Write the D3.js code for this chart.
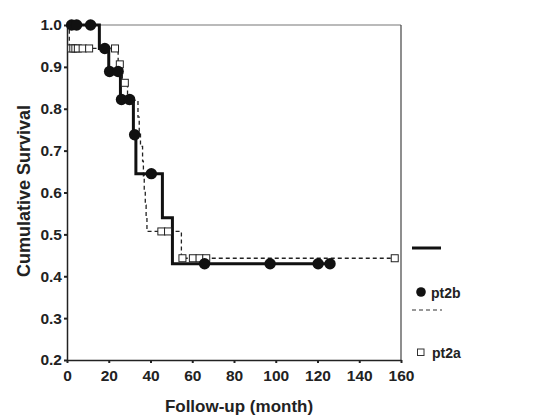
<!DOCTYPE html>
<html lang="en">
    <head>
        <meta charset="utf-8">
        <title>Cumulative Survival</title>
        <script src="https://d3js.org/d3.v7.min.js"></script>
        <style type="text/css">
            body { margin: 0; background: #fff; }
            text { font-family: "Liberation Sans", Arial, sans-serif; font-weight: bold; fill: #222; }
        </style>
    </head>
    <body>
        <script>
        // step times and survival values
        const pt2bTime = [0, 15.5, 20, 25.6, 31.8, 33, 45.7, 50.5];
        const pt2bSurv = [1.0, 0.944, 0.889, 0.822, 0.738, 0.645, 0.54, 0.43];
        const pt2bEnd = 126;
        const pt2bCensored = [2.2, 4.6, 11.3, 18.1, 20.4, 24.5, 26.1, 30, 32.4, 40.4, 65.9, 97.3, 120.3, 126];

        const pt2aTime = [0, 1.1, 24.5, 26.5, 29, 34, 34.6, 35.2, 36.2, 36.6, 37, 37.5, 37.9, 38.3, 54.8];
        const pt2aSurv = [1.0, 0.944, 0.906, 0.862, 0.82, 0.78, 0.745, 0.71, 0.675, 0.64, 0.605, 0.57, 0.54, 0.507, 0.443];
        const pt2aEnd = 157;
        const pt2aCensored = [2, 3, 4, 5.2, 7.5, 10.6, 23, 25.3, 27.7, 30.3, 45.2, 48.4, 55.3, 60.3, 63.5, 66.7, 157];

        const xTicks = [0, 20, 40, 60, 80, 100, 120, 140, 160];
        const yTicks = [0.2, 0.3, 0.4, 0.5, 0.6, 0.7, 0.8, 0.9, 1.0];

        const width = 545, height = 419;
        const plotLeft = 67, plotRight = 401, plotTop = 25, plotBottom = 360;

        const x = d3.scaleLinear().domain([0, 160]).range([plotLeft, plotRight]);
        const y = d3.scaleLinear().domain([0.2, 1.0]).range([plotBottom, plotTop]);

        const svg = d3.select("body").append("svg")
            .attr("width", width)
            .attr("height", height);

        // frame top and right
        svg.append("line").attr("x1", plotLeft).attr("x2", plotRight).attr("y1", plotTop).attr("y2", plotTop)
            .attr("stroke", "#777").attr("stroke-width", 1.2);
        svg.append("line").attr("x1", plotRight).attr("x2", plotRight).attr("y1", plotTop).attr("y2", plotBottom)
            .attr("stroke", "#444").attr("stroke-width", 1.2);

        const xAxis = d3.axisBottom(x).tickValues(xTicks).tickFormat(d3.format("d")).tickSize(3).tickSizeOuter(0);
        const yAxis = d3.axisLeft(y).tickValues(yTicks).tickFormat(d3.format(".1f")).tickSize(3).tickSizeOuter(0);

        const gx = svg.append("g").attr("transform", "translate(0," + plotBottom + ")").call(xAxis);
        const gy = svg.append("g").attr("transform", "translate(" + plotLeft + ",0)").call(yAxis);
        [gx, gy].forEach(g => {
            g.select(".domain").attr("stroke", "#222").attr("stroke-width", 1.5);
            g.selectAll(".tick line").attr("stroke", "#222").attr("stroke-width", 2);
            g.selectAll(".tick text").attr("font-size", 15.5).attr("fill", "#333")
                .attr("font-family", "Liberation Sans, Arial, sans-serif").attr("font-weight", "bold");
        });
        gx.selectAll(".tick text").attr("dy", "0.95em");
        gy.selectAll(".tick text").attr("x", -5);

        function steps(times, surv, end) {
            const pts = times.map((t, i) => [t, surv[i]]);
            pts.push([end, surv[surv.length - 1]]);
            return pts;
        }
        function survAt(times, surv, t) {
            let v = surv[0];
            times.forEach((tt, i) => { if (tt <= t) v = surv[i]; });
            return v;
        }

        const line = d3.line().x(d => x(d[0])).y(d => y(d[1])).curve(d3.curveStepAfter);

        // pt2a dashed
        svg.append("path").datum(steps(pt2aTime, pt2aSurv, pt2aEnd))
            .attr("d", line).attr("fill", "none").attr("stroke", "#222")
            .attr("stroke-width", 1.3).attr("stroke-dasharray", "4,3");

        // pt2b solid
        svg.append("path").datum(steps(pt2bTime, pt2bSurv, pt2bEnd))
            .attr("d", line).attr("fill", "none").attr("stroke", "#111")
            .attr("stroke-width", 3);

        svg.selectAll(".sq").data(pt2aCensored).enter().append("rect")
            .attr("class", "sq")
            .attr("x", d => x(d) - 3.5)
            .attr("y", d => y(survAt(pt2aTime, pt2aSurv, d)) - 3.5)
            .attr("width", 7).attr("height", 7)
            .attr("fill", "#fff").attr("stroke", "#222").attr("stroke-width", 1);

        svg.selectAll(".dot").data(pt2bCensored).enter().append("circle")
            .attr("class", "dot")
            .attr("cx", d => x(d))
            .attr("cy", d => y(survAt(pt2bTime, pt2bSurv, d)))
            .attr("r", 5.7)
            .attr("fill", "#111");

        // legend
        const legend = svg.append("g");
        legend.append("line").attr("x1", 412).attr("x2", 441).attr("y1", 248).attr("y2", 248)
            .attr("stroke", "#111").attr("stroke-width", 3);
        legend.append("circle").attr("cx", 421).attr("cy", 292).attr("r", 4.8).attr("fill", "#111");
        legend.append("text").attr("x", 431).attr("y", 298).attr("font-size", 14).text("pt2b");
        legend.append("line").attr("x1", 412).attr("x2", 442).attr("y1", 310).attr("y2", 310)
            .attr("stroke", "#333").attr("stroke-width", 1.2).attr("stroke-dasharray", "4,3");
        legend.append("rect").attr("x", 417.5).attr("y", 349).attr("width", 6.5).attr("height", 6.5)
            .attr("fill", "#fff").attr("stroke", "#333").attr("stroke-width", 1);
        legend.append("text").attr("x", 432).attr("y", 358).attr("font-size", 14).text("pt2a");

        // axis titles
        svg.append("text")
            .attr("x", (plotLeft + plotRight) / 2 + 5).attr("y", 412)
            .attr("text-anchor", "middle").attr("font-size", 17)
            .text("Follow-up (month)");
        svg.append("text")
            .attr("transform", "translate(30,191) rotate(-90)")
            .attr("text-anchor", "middle").attr("font-size", 18)
            .text("Cumulative Survival");
        </script>
    </body>
</html>
